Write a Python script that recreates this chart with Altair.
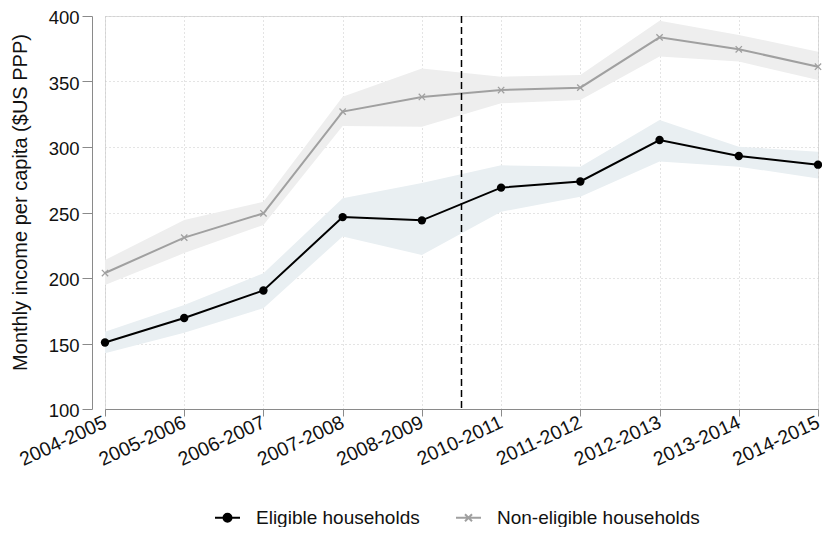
import json
import altair as alt
import pandas as pd

periods = ["2004-2005", "2005-2006", "2006-2007", "2007-2008", "2008-2009",
           "2010-2011", "2011-2012", "2012-2013", "2013-2014", "2014-2015"]

elig_mean = [150.8, 169.5, 190.5, 246.5, 244.0, 269.0, 273.7, 305.3, 293.1, 286.5]
elig_lo = [142.5, 158.3, 177.0, 231.7, 217.6, 250.6, 262.0, 289.0, 285.0, 276.0]
elig_hi = [159.0, 179.4, 203.6, 260.8, 272.5, 286.0, 285.0, 320.6, 300.2, 296.4]

nonelig_mean = [203.8, 230.8, 249.4, 327.0, 338.2, 343.5, 345.3, 383.7, 374.6, 361.3]
nonelig_lo = [194.7, 219.0, 240.5, 316.0, 315.5, 333.4, 335.9, 369.0, 365.2, 351.1]
nonelig_hi = [213.7, 244.3, 258.2, 338.4, 360.0, 353.7, 355.0, 396.4, 385.5, 372.8]

groups = ["Eligible households", "Non-eligible households"]
break_pos = [4.5]

rows = []
for g, m, lo, hi in [(groups[0], elig_mean, elig_lo, elig_hi),
                     (groups[1], nonelig_mean, nonelig_lo, nonelig_hi)]:
    for i, p in enumerate(periods):
        rows.append({"idx": i, "period": p, "group": g, "mean": m[i], "lo": lo[i], "hi": hi[i]})
df = pd.DataFrame(rows)

FONT = "Liberation Sans"
label_expr = json.dumps(periods) + "[datum.value]"

x_enc = alt.X("idx:Q", scale=alt.Scale(domain=[0, 9], nice=False, zero=False),
              axis=alt.Axis(values=list(range(10)), labelExpr=label_expr, title=None,
                            labelAngle=-25, labelAlign="right", labelBaseline="middle",
                            labelFontSize=19.5, labelPadding=5, tickSize=7,
                            grid=True, gridDash=[1, 3], gridColor="#c8c8c8",
                            domainColor="#8a8a8a", tickColor="#8a8a8a",
                            labelColor="#111111", labelFont=FONT, labelOverlap=False))
y_scale = alt.Scale(domain=[100, 400], nice=False, zero=False)
y_axis = alt.Axis(values=[100, 150, 200, 250, 300, 350, 400],
                  title="Monthly income per capita ($US PPP)",
                  titleFontSize=20, titleFont=FONT, titleFontWeight="normal",
                  titleColor="#111111", titlePadding=18, titleY=186,
                  labelFontSize=18.5, labelFont=FONT, labelColor="#111111",
                  labelPadding=3, labelOffset=1.5, tickSize=10, offset=13,
                  grid=True, gridDash=[1, 3], gridColor="#c8c8c8",
                  domainColor="#8a8a8a", tickColor="#8a8a8a")

base = alt.Chart(df)

band_elig = base.transform_filter(alt.datum.group == groups[0]).mark_area(
    color="#e9eff2", opacity=1
).encode(x=x_enc, y=alt.Y("lo:Q", scale=y_scale, axis=y_axis), y2="hi:Q")

band_non = base.transform_filter(alt.datum.group == groups[1]).mark_area(
    color="#eeeeee", opacity=1
).encode(x="idx:Q", y="lo:Q", y2="hi:Q")

sym_expr = ("datum.value == 'Eligible households' ? "
            "'M-1,0L1,0M-0.32,0A0.32,0.32,0,1,1,0.32,0A0.32,0.32,0,1,1,-0.32,0Z' : "
            "'M-1,0L1,0M-0.28,-0.28L0.28,0.28M-0.28,0.28L0.28,-0.28'")
fill_expr = "datum.value == 'Eligible households' ? '#000000' : 'transparent'"

lines = base.mark_line(strokeWidth=2).encode(
    x="idx:Q",
    y=alt.Y("mean:Q"),
    color=alt.Color("group:N",
                    scale=alt.Scale(domain=groups, range=["#000000", "#a0a0a0"]),
                    legend=alt.Legend(title=None, orient="none", direction="horizontal",
                                      legendX=109, legendY=488,
                                      symbolType=alt.ExprRef(sym_expr),
                                      symbolFillColor=alt.ExprRef(fill_expr),
                                      symbolSize=625, symbolStrokeWidth=2,
                                      labelFontSize=19, labelFont=FONT, labelColor="#111111",
                                      labelOffset=15, columnPadding=32, padding=0,
                                      labelLimit=400)),
)

pts_elig = base.transform_filter(alt.datum.group == groups[0]).mark_point(
    shape="circle", filled=True, color="#000000", size=70, opacity=1
).encode(x="idx:Q", y="mean:Q")

pts_non = base.transform_filter(alt.datum.group == groups[1]).mark_point(
    shape="M-1,-1L1,1M-1,1L1,-1", filled=False, color="#a0a0a0", size=40,
    strokeWidth=1.3, opacity=1
).encode(x="idx:Q", y="mean:Q")

rule = alt.Chart(pd.DataFrame({"pos": break_pos})).mark_rule(
    color="#000000", strokeWidth=1.5, strokeDash=[7, 4]
).encode(x="pos:Q")

chart = alt.layer(band_elig, band_non, lines, rule, pts_elig, pts_non).properties(
    width=713, height=393,
    autosize=alt.AutoSizeParams(type="none"),
    padding={"left": 97, "top": 8, "right": 4, "bottom": 118},
).configure_view(stroke=None).configure(font=FONT)

chart.save("out.html", embed_options={"renderer": "svg", "actions": False})
